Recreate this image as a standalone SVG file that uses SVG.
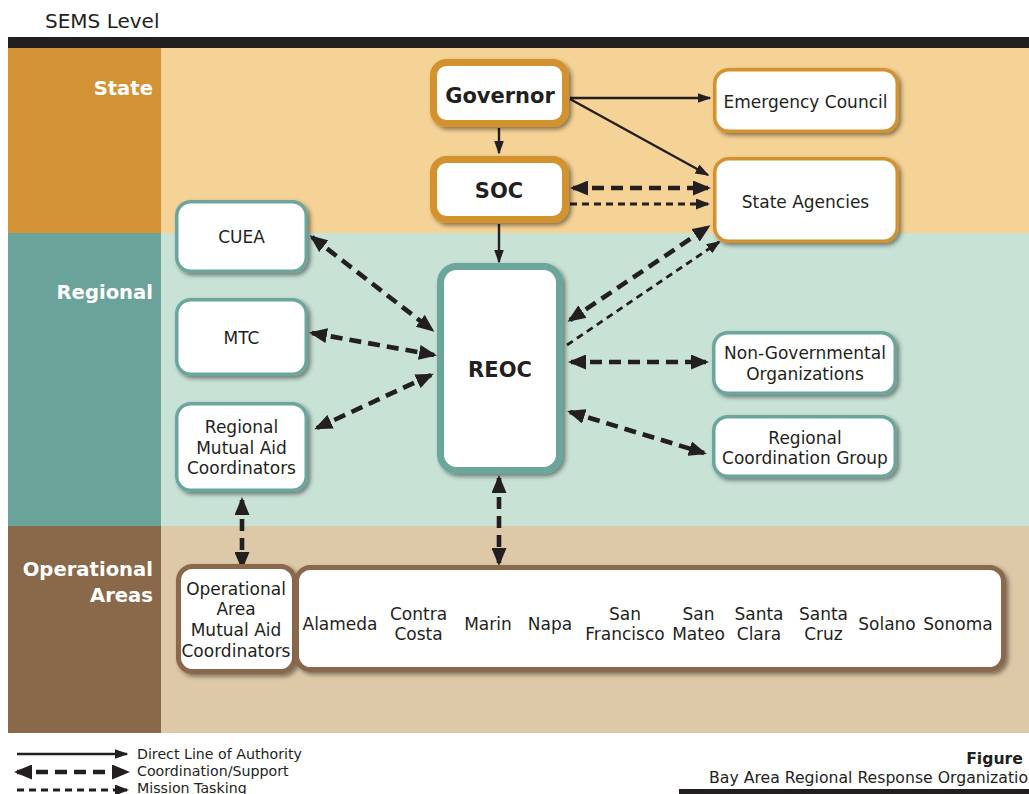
<svg xmlns="http://www.w3.org/2000/svg" width="1029" height="794" viewBox="0 0 1029 794">
<style>
.t{font-family:"DejaVu Sans","Liberation Sans",sans-serif;fill:#231F20;font-size:17px;text-anchor:middle}
.b{font-weight:bold;font-size:21px}
.lane{font-family:"DejaVu Sans","Liberation Sans",sans-serif;fill:#fff;font-weight:bold;font-size:19.6px;text-anchor:end}
.leg{font-family:"DejaVu Sans","Liberation Sans",sans-serif;fill:#231F20;font-size:14.2px}
.nO{fill:#fff;stroke:#D4922F}
.nT{fill:#fff;stroke:#6CA59B}
.nB{fill:#fff;stroke:#8A684B}
.sol{stroke:#231F20;stroke-width:2.4;fill:none;marker-end:url(#mS)}
.crd{stroke:#231F20;stroke-width:4.6;fill:none;stroke-dasharray:12 7;marker-end:url(#mC);marker-start:url(#mC)}
.mis{stroke:#231F20;stroke-width:2.8;fill:none;stroke-dasharray:7 5;marker-end:url(#mM)}
</style>
<defs>
<filter id="sh" x="-15%" y="-15%" width="140%" height="140%"><feDropShadow dx="2.5" dy="2.5" stdDeviation="2" flood-color="#000" flood-opacity="0.45"/></filter>
<marker id="mS" markerUnits="userSpaceOnUse" viewBox="0 0 14 10" refX="12.5" refY="5" markerWidth="14" markerHeight="10" orient="auto"><path d="M0,0 L14,5 L0,10 z" fill="#231F20"/></marker>
<marker id="mC" markerUnits="userSpaceOnUse" viewBox="0 0 18 15" refX="15" refY="7.5" markerWidth="18" markerHeight="15" orient="auto-start-reverse"><path d="M0,0 L18,7.5 L0,15 z" fill="#231F20"/></marker>
<marker id="mM" markerUnits="userSpaceOnUse" viewBox="0 0 14 11" refX="12" refY="5.5" markerWidth="14" markerHeight="11" orient="auto"><path d="M0,0 L14,5.5 L0,11 z" fill="#231F20"/></marker>
</defs>
<rect width="1029" height="794" fill="#fff"/>
<g id="lanes">
<text x="45" y="28" style="font-family:'DejaVu Sans','Liberation Sans',sans-serif;font-size:20px;fill:#231F20">SEMS Level</text>
<rect x="8" y="37" width="1021" height="11" fill="#231F20"/>
<rect x="8" y="48" width="153" height="185" fill="#D39234"/>
<rect x="161" y="48" width="868" height="185" fill="#F5D295"/>
<rect x="8" y="233" width="153" height="293" fill="#6AA39A"/>
<rect x="161" y="233" width="868" height="293" fill="#C8E2D6"/>
<rect x="8" y="526" width="153" height="207" fill="#8A684A"/>
<rect x="161" y="526" width="868" height="207" fill="#DDC8A7"/>
<text class="lane" x="153" y="95">State</text>
<text class="lane" x="153" y="299">Regional</text>
<text class="lane" x="153" y="576">Operational</text>
<text class="lane" x="153" y="602">Areas</text>
</g>
<g id="connectors">
<path class="sol" d="M570,98 L710,98"/>
<path class="sol" d="M570,99 L708,175"/>
<path class="sol" d="M499,128 L499,153"/>
<path class="sol" d="M499,224 L499,262"/>
<path class="crd" d="M573,188 L708,188"/>
<path class="mis" d="M570,204 L708,204"/>
<path class="crd" d="M570,320 L708,227"/>
<path class="mis" d="M567,345 L719,242"/>
<path class="crd" d="M571,362 L706,362"/>
<path class="crd" d="M570,412 L704,453"/>
<path class="crd" d="M312,237 L432,330"/>
<path class="crd" d="M312,333 L434,355"/>
<path class="crd" d="M317,428 L431,375"/>
<path class="crd" d="M499,478 L499,563"/>
<path class="crd" d="M242,500 L242,567"/>
</g>
<g id="governor"><rect class="nO" x="433.5" y="62.5" width="132" height="61" rx="13" stroke-width="7" filter="url(#sh)"/><text class="t b" x="500" y="103">Governor</text></g>
<g id="soc"><rect class="nO" x="433.5" y="159.5" width="132" height="60" rx="13" stroke-width="7" filter="url(#sh)"/><text class="t b" x="499" y="198">SOC</text></g>
<g id="emergency-council"><rect class="nO" x="714.75" y="69.75" width="182.5" height="61.5" rx="14" stroke-width="3.5" filter="url(#sh)"/><text class="t" x="805.5" y="108">Emergency Council</text></g>
<g id="state-agencies"><rect class="nO" x="714.75" y="158.75" width="182.5" height="82.5" rx="14" stroke-width="3.5" filter="url(#sh)"/><text class="t" x="805.5" y="208">State Agencies</text></g>
<g id="cuea"><rect class="nT" x="176.75" y="201.75" width="129.5" height="69.5" rx="14" stroke-width="3.5" filter="url(#sh)"/><text class="t" x="241.5" y="243">CUEA</text></g>
<g id="mtc"><rect class="nT" x="176.75" y="299.75" width="129.5" height="74.5" rx="14" stroke-width="3.5" filter="url(#sh)"/><text class="t" x="241.5" y="344">MTC</text></g>
<g id="rmac"><rect class="nT" x="176.75" y="403.75" width="129.5" height="86.5" rx="14" stroke-width="3.5" filter="url(#sh)"/><text class="t" x="241.5" y="433">Regional</text><text class="t" x="241.5" y="454">Mutual Aid</text><text class="t" x="241.5" y="474">Coordinators</text></g>
<g id="reoc"><rect class="nT" x="440.5" y="266.5" width="119" height="204" rx="16" stroke-width="7" filter="url(#sh)"/><text class="t b" x="500" y="377">REOC</text></g>
<g id="ngo"><rect class="nT" x="713.75" y="332.75" width="181.5" height="60.5" rx="14" stroke-width="3.5" filter="url(#sh)"/><text class="t" x="805" y="359">Non-Governmental</text><text class="t" x="805" y="380">Organizations</text></g>
<g id="rcg"><rect class="nT" x="713.75" y="416.75" width="181.5" height="59.5" rx="14" stroke-width="3.5" filter="url(#sh)"/><text class="t" x="805" y="444">Regional</text><text class="t" x="805" y="464">Coordination Group</text></g>
<g id="oamac"><rect class="nB" x="178.5" y="566.5" width="116" height="105" rx="14" stroke-width="5" filter="url(#sh)"/><text class="t" x="236" y="595">Operational</text><text class="t" x="236" y="615">Area</text><text class="t" x="236" y="636">Mutual Aid</text><text class="t" x="236" y="657">Coordinators</text></g>
<g id="counties"><rect class="nB" x="296.5" y="567.5" width="707" height="102" rx="14" stroke-width="5" filter="url(#sh)"/>
<text class="t" x="340" y="630">Alameda</text>
<text class="t" x="418.5" y="620">Contra</text><text class="t" x="418.5" y="640">Costa</text>
<text class="t" x="488" y="630">Marin</text>
<text class="t" x="550" y="630">Napa</text>
<text class="t" x="625" y="620">San</text><text class="t" x="625" y="640">Francisco</text>
<text class="t" x="698.5" y="620">San</text><text class="t" x="698.5" y="640">Mateo</text>
<text class="t" x="759" y="620">Santa</text><text class="t" x="759" y="640">Clara</text>
<text class="t" x="823.5" y="620">Santa</text><text class="t" x="823.5" y="640">Cruz</text>
<text class="t" x="887" y="630">Solano</text>
<text class="t" x="958" y="630">Sonoma</text>
</g>
<g id="legend">
<path class="sol" d="M17,754 L127,754"/>
<path class="crd" d="M17,772 L127,772"/>
<path class="mis" d="M17,790 L127,790"/>
<text class="leg" x="137" y="759">Direct Line of Authority</text>
<text class="leg" x="137" y="776">Coordination/Support</text>
<text class="leg" x="137" y="793">Mission Tasking</text>
</g>
<g id="caption">
<text x="1023" y="764" style="font-family:'DejaVu Sans','Liberation Sans',sans-serif;font-size:15.7px;font-weight:bold;fill:#231F20;text-anchor:end">Figure</text>
<text x="709" y="783" style="font-family:'DejaVu Sans','Liberation Sans',sans-serif;font-size:15.7px;fill:#231F20">Bay Area Regional Response Organization</text>
<rect x="679" y="789" width="350" height="5" fill="#231F20"/>
</g>
</svg>
